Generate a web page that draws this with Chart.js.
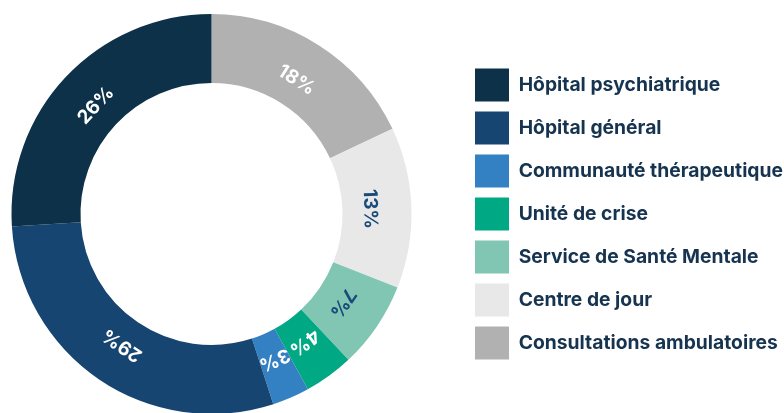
<!DOCTYPE html>
<html lang="fr">

<head>
    <meta charset="UTF-8">
    <title>Répartition</title>
    <script src="https://cdn.jsdelivr.net/npm/chart.js"></script>
</head>

<style>
    body {
        margin: 0;
        background: #fff
    }

    #container {
        position: relative;
        width: 784px;
        height: 413px;
        overflow: hidden
    }

    #mycanvas {
        position: absolute;
        left: -42px;
        top: 0
    }
</style>

<body>
    <div id="container">
        <canvas id="mycanvas" width="826" height="428"></canvas>
    </div>

    <script>
        // données, dans le sens horaire depuis le haut
        const labels = ['Consultations ambulatoires', 'Centre de jour', 'Service de Santé Mentale', 'Unité de crise', 'Communauté thérapeutique', 'Hôpital général', 'Hôpital psychiatrique']
        const values = [18, 13, 7, 4, 3, 29, 26]
        const colors = ['#b1b1b1', '#e8e8e8', '#80c6b2', '#00a884', '#3380c2', '#174571', '#0d3149']
        const labelColors = ['#ffffff', '#1a4a7a', '#1a4a7a', '#ffffff', '#ffffff', '#ffffff', '#ffffff']

        const fontFamily = 'Inter, "Noto Sans", sans-serif'

        // étiquettes % tournées le long de l'anneau
        const percentLabels = {
            id: 'percentLabels',
            afterDatasetsDraw(chart) {
                const ctx = chart.ctx
                const meta = chart.getDatasetMeta(0)
                meta.data.forEach((arc, i) => {
                    const p = arc.getProps(['x', 'y', 'startAngle', 'endAngle', 'innerRadius', 'outerRadius'], true)
                    const mid = (p.startAngle + p.endAngle) / 2
                    const r = p.innerRadius + (p.outerRadius - p.innerRadius) * 0.4
                    ctx.save()
                    ctx.translate(p.x + Math.cos(mid) * r, p.y + Math.sin(mid) * r)
                    ctx.rotate(mid + Math.PI / 2)
                    ctx.font = 'bold 19px ' + fontFamily
                    ctx.fillStyle = labelColors[i]
                    ctx.textAlign = 'center'
                    ctx.textBaseline = 'middle'
                    ctx.fillText(values[i] + '%', 0, 0)
                    ctx.restore()
                })
            }
        }

        const chart = new Chart(document.getElementById('mycanvas'), {
            type: 'doughnut',
            data: {
                labels: labels,
                datasets: [{
                    data: values,
                    backgroundColor: colors,
                    borderWidth: 0
                }]
            },
            options: {
                responsive: false,
                animation: false,
                cutout: '65.5%',
                layout: {
                    padding: { top: 14, bottom: 14, left: 0, right: 0 }
                },
                plugins: {
                    tooltip: { enabled: false },
                    legend: {
                        position: 'right',
                        reverse: true,
                        labels: {
                            boxWidth: 34,
                            boxHeight: 33,
                            padding: 10,
                            color: '#16344f',
                            font: { family: fontFamily, size: 19.3, weight: 'bold' }
                        }
                    }
                }
            },
            plugins: [percentLabels]
        })

        // caler la légende : zone du graphique de 0 à 507 px dans le canvas
        chart.options.layout.padding.right = 826 - 507 - chart.legend.width
        chart.update()
    </script>
</body>

</html>
